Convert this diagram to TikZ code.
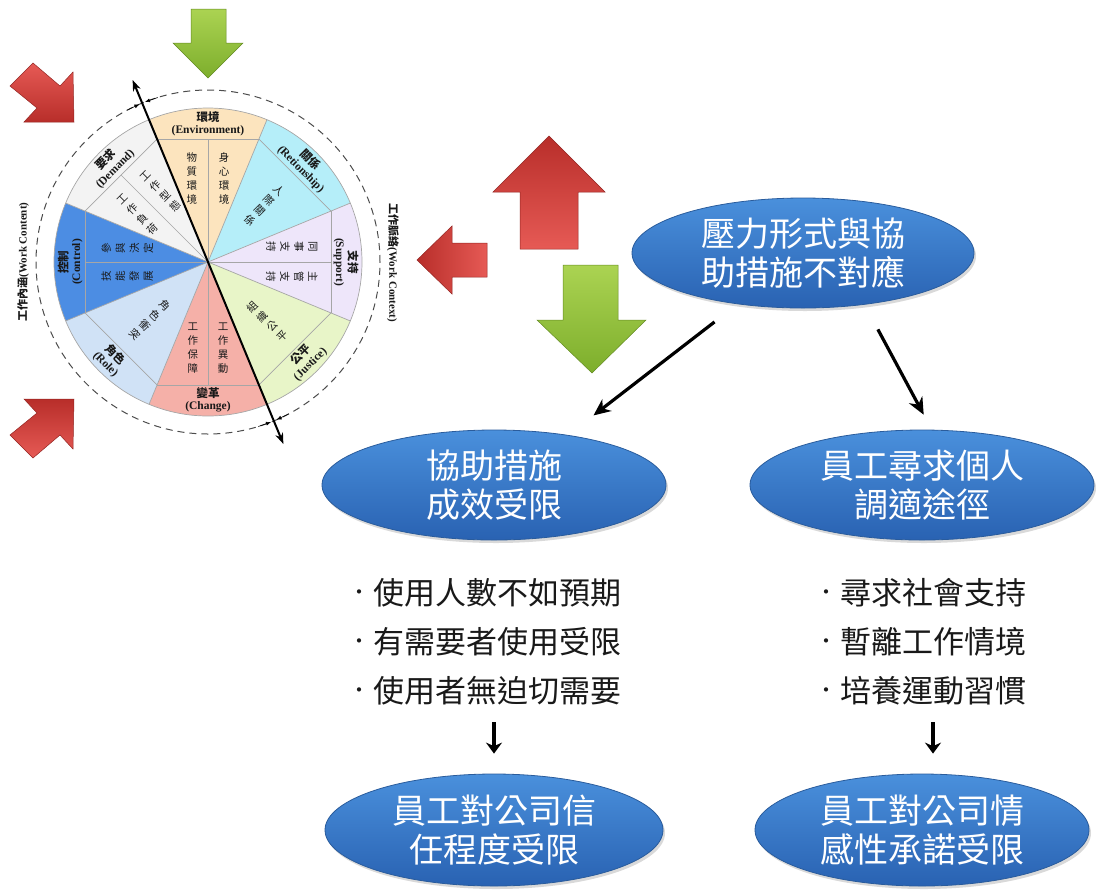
\documentclass[tikz,border=0pt]{standalone}
\usepackage{fontspec}
\setmainfont{Liberation Serif}
\newfontfamily\cjk{Noto Sans CJK TC}
\usetikzlibrary{shapes.geometric,arrows.meta,shadows}
\definecolor{cEnv}{HTML}{FCE4BE}
\definecolor{cRel}{HTML}{B5EEF9}
\definecolor{cSup}{HTML}{EEE6FA}
\definecolor{cJus}{HTML}{E8F5C8}
\definecolor{cChg}{HTML}{F5B0A8}
\definecolor{cRole}{HTML}{D0E2F6}
\definecolor{cCtl}{HTML}{4C8DE3}
\definecolor{cDem}{HTML}{F3F3F3}
\definecolor{eTop}{HTML}{4A90DC}
\definecolor{eBot}{HTML}{2962B2}
\definecolor{eBorder}{HTML}{2A5C9C}
\definecolor{rLight}{HTML}{E65A55}
\definecolor{rDark}{HTML}{B82E2A}
\definecolor{gLight}{HTML}{ABD352}
\definecolor{gDark}{HTML}{7DAE2C}
\newcommand{\bdot}{\makebox[24pt][l]{\raisebox{5pt}{\fontsize{20}{20}\selectfont •}}}
\begin{document}
\begin{tikzpicture}[x=1pt,y=-1pt,
  wline/.style={draw=gray!70, line width=0.7pt},
  band/.style={align=center, font=\fontsize{11.5}{12.5}\selectfont, inner sep=0pt, text=black!90},
  col/.style={align=center, font=\cjk\fontsize{10.5}{14}\selectfont, inner sep=0pt, text=black!90},
  side/.style={font=\fontsize{11}{12}\selectfont, inner sep=0pt, text=black!90},
  ell/.style={ellipse, draw=eBorder, line width=0.8pt, top color=eTop, bottom color=eBot,
    text=white, align=center, font=\cjk\fontsize{34}{39}\selectfont, inner sep=0pt,
    drop shadow={opacity=0.3, shadow xshift=2pt, shadow yshift=-3pt}},
  bul/.style={anchor=west, inner sep=0pt, font=\cjk\fontsize{31}{36}\selectfont, text=black!90},
  conn/.style={line width=3.2pt, -{Stealth[length=17pt,width=15pt]}},
  small/.style={line width=3.5pt, -{Stealth[length=11pt,width=16pt]}},
  redarrow/.style={draw=rDark!80!black, line width=0.5pt},
  greenarrow/.style={draw=gDark!80!black, line width=0.5pt}
]
\path[use as bounding box] (0,0) rectangle (1102,892);

% ---------- wheel ----------
\begin{scope}[shift={(208,262)}, yscale=-1]
  \foreach \a/\c in {90/cEnv, 45/cRel, 0/cSup, -45/cJus, -90/cChg, -135/cRole, 180/cCtl, 135/cDem}{
    \fill[\c] (0,0) -- (\a-22.5:154) arc[start angle=\a-22.5, end angle=\a+22.5, radius=154] -- cycle;
  }
  \foreach \a in {90,45,0,-45,-90,-135,180,135}{
    \draw[wline] (\a-22.5:133) -- (\a+22.5:133);
    \draw[wline] (0,0) -- (\a+22.5:154);
  }
  \foreach \a in {90,0,-90,180,135} \draw[wline] (0,0) -- (\a:123);
  \draw[wline] (0,0) circle (154);
  \draw[draw=black!70, line width=1pt, dash pattern=on 7pt off 5pt] (0,0) circle (172);
  \draw[line width=2pt, {Stealth[length=11pt,width=8pt]}-{Stealth[length=11pt,width=8pt]}] (112.5:197) -- (-67.5:197);
  \foreach \b in {112.5,-67.5}{
    \draw[line width=0.6pt, -{Latex[length=5pt,width=4pt]}] (\b+5.5:172) -- (\b+1:172);
    \draw[line width=0.6pt, -{Latex[length=5pt,width=4pt]}] (\b-5.5:172) -- (\b-1:172);
  }
  % band labels
  \node[band] (lEnv) at (90:138) {{\cjk\bfseries 環境}\\\textbf{(Environment)}};
  \node[band, rotate=-45] (lRel) at (45:138) {{\cjk\bfseries 關係}\\\textbf{(Retionship)}};
  \node[band, rotate=-90] (lSup) at (0:138) {{\cjk\bfseries 支持}\\\textbf{(Support)}};
  \node[band, rotate=45] (lJus) at (-45:138) {{\cjk\bfseries 公平}\\\textbf{(Justice)}};
  \node[band] (lChg) at (-90:138) {{\cjk\bfseries 變革}\\\textbf{(Change)}};
  \node[band, rotate=-45] (lRole) at (-135:138) {{\cjk\bfseries 角色}\\\textbf{(Role)}};
  \node[band, rotate=90] (lCtl) at (180:138) {{\cjk\bfseries 控制}\\\textbf{(Control)}};
  \node[band, rotate=45] (lDem) at (135:138) {{\cjk\bfseries 要求}\\\textbf{(Demand)}};
  % inner labels
  \node[col] (i1) at (101:85) {物\\質\\環\\境};
  \node[col] (i2) at (79:85) {身\\心\\環\\境};
  \node[col, rotate=-45] (i3) at (45:80) {人\\際\\關\\係};
  \node[col, rotate=-90] (i4) at (10:85) {同\\事\\支\\持};
  \node[col, rotate=-90] (i5) at (-10:85) {主\\管\\支\\持};
  \node[col, rotate=45] (i6) at (-45:84) {組\\織\\公\\平};
  \node[col] (i7) at (-100:87) {工\\作\\保\\障};
  \node[col] (i8) at (-80:87) {工\\作\\異\\動};
  \node[col, rotate=-45] (i9) at (-135:82) {角\\色\\衝\\突};
  \node[col, rotate=90] (i10) at (170:82) {參\\與\\決\\定};
  \node[col, rotate=90] (i11) at (190:82) {技\\能\\發\\展};
  \node[col, rotate=45] (i12) at (124:85) {工\\作\\型\\態};
  \node[col, rotate=45] (i13) at (146:85) {工\\作\\負\\荷};
\end{scope}
\node[side, rotate=90] (wcont) at (23,262) {{\cjk\bfseries 工作內涵}\textbf{(Work Content)}};
\node[side, rotate=-90] (wctx) at (393,263) {{\cjk\bfseries 工作脈絡}\textbf{(Work Context)}};

% ---------- big arrows ----------
\shade[greenarrow, top color=gLight, bottom color=gDark]
  (191,9) -- (226,9) -- (226,43) -- (243,43) -- (208,78) -- (173,43) -- (191,43) -- cycle;
\shade[redarrow, top color=rLight, bottom color=rDark]
  (33,63) -- (60,86) -- (73,72) -- (74,122) -- (24,122) -- (37,108) -- (10,86) -- cycle;
\shade[redarrow, top color=rDark, bottom color=rLight]
  (33,458) -- (60,435) -- (73,449) -- (74,399) -- (24,399) -- (37,413) -- (10,435) -- cycle;
\shade[redarrow, top color=rDark, bottom color=rLight]
  (520,249) -- (520,192) -- (493,192) -- (549,136) -- (605,192) -- (578,192) -- (578,249) -- cycle;
\shade[redarrow, left color=rDark, right color=rLight]
  (487,243) -- (452,243) -- (452,226) -- (417,260) -- (452,294) -- (452,277) -- (487,277) -- cycle;
\shade[greenarrow, top color=gLight, bottom color=gDark]
  (563,265) -- (618,265) -- (618,320) -- (646,320) -- (592,373) -- (537,320) -- (563,320) -- cycle;

% ---------- ellipses ----------
\node[ell, minimum width=342pt, minimum height=110pt] (top) at (803,253) {壓力形式與協\\助措施不對應};
\node[ell, minimum width=344pt, minimum height=110pt] (help) at (494,485) {協助措施\\成效受限};
\node[ell, minimum width=344pt, minimum height=110pt] (self) at (922,485) {員工尋求個人\\調適途徑};
\node[ell, minimum width=338pt, minimum height=112pt] (trust) at (494,830) {員工對公司信\\任程度受限};
\node[ell, minimum width=334pt, minimum height=112pt] (commit) at (922,830) {員工對公司情\\感性承諾受限};

% ---------- bullets ----------
\node[bul] (l1) at (349,593) {\bdot 使用人數不如預期};
\node[bul] (l2) at (349,642) {\bdot 有需要者使用受限};
\node[bul] (l3) at (349,691) {\bdot 使用者無迫切需要};
\node[bul] (r1) at (816,593) {\bdot 尋求社會支持};
\node[bul] (r2) at (816,642) {\bdot 暫離工作情境};
\node[bul] (r3) at (816,691) {\bdot 培養運動習慣};

% ---------- connectors ----------
\draw[conn, shorten <=29pt, shorten >=32pt] (top.218) -- (help.34);
\draw[conn, shorten <=28pt, shorten >=17pt] (top.-40) -- (self.80);
\coordinate (s1) at (494,722);
\coordinate (s2) at (933,722);
\draw[small] (s1) -- ([yshift=20pt]trust.north);
\draw[small] (s2) -- ([xshift=11pt,yshift=20pt]commit.north);
\end{tikzpicture}
\end{document}
